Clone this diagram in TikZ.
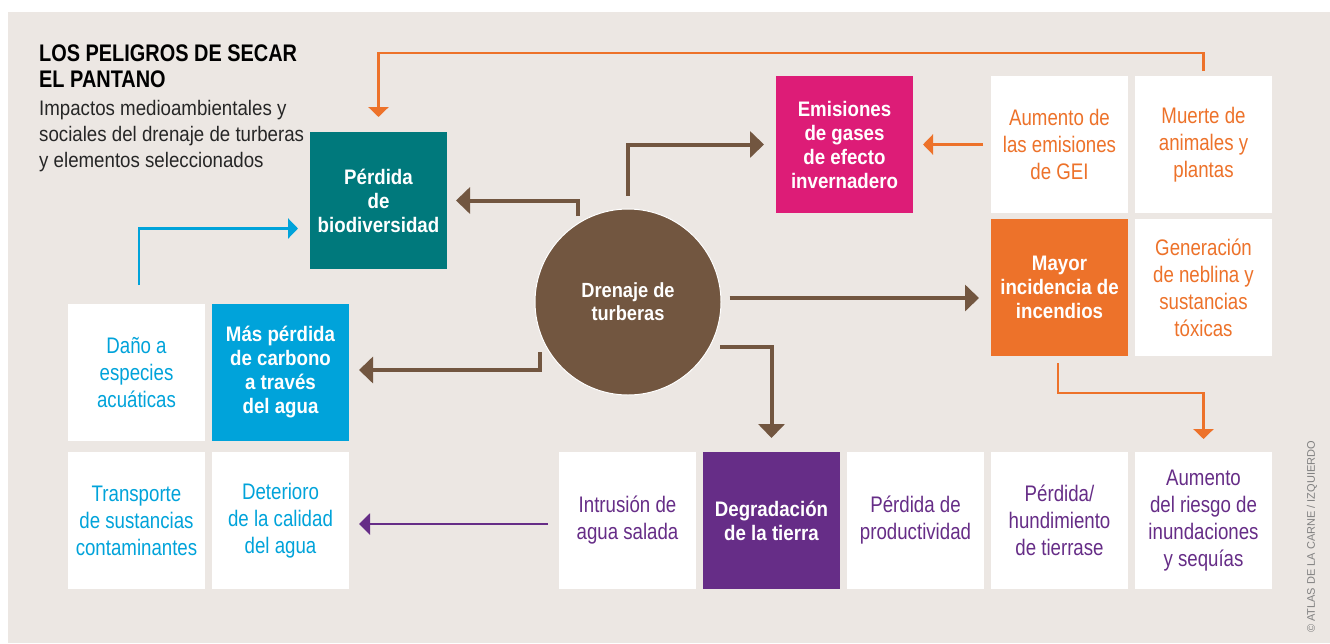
\documentclass[tikz,border=0pt]{standalone}
\usepackage{fontspec}
\setmainfont{Liberation Sans}
\newfontfamily\fA[FakeStretch=0.83]{Liberation Sans}
\newfontfamily\fB[FakeStretch=0.89]{Liberation Sans}
\usetikzlibrary{arrows.meta}
\definecolor{bgc}{HTML}{ECE7E3}
\definecolor{tealc}{HTML}{00797C}
\definecolor{magc}{HTML}{DD1C77}
\definecolor{orc}{HTML}{ED722A}
\definecolor{bluec}{HTML}{00A3DA}
\definecolor{purc}{HTML}{662D87}
\definecolor{brc}{HTML}{725640}
\tikzset{
  sq/.style={minimum width=137pt, minimum height=137pt, inner sep=0pt, outer sep=0pt, align=center, anchor=north west},
  wsq/.style={sq, fill=white, font=\fA\fontsize{22.5}{27}\selectfont},
  csq/.style={sq, text=white, font=\fB\bfseries\fontsize{21}{24}\selectfont},
  barr/.style={draw=brc, line width=4pt, -{Triangle[width=26pt,length=14pt]}},
  oarr/.style={draw=orc, line width=2.5pt, -{Triangle[width=20pt,length=10pt]}},
  bluearr/.style={draw=bluec, line width=2.5pt, -{Triangle[width=20pt,length=10pt]}},
  parr/.style={draw=purc, line width=2.2pt, -{Triangle[width=21pt,length=11pt]}},
}
\begin{document}
\begin{tikzpicture}[x=1pt,y=-1pt]
\useasboundingbox (0,0) rectangle (1330,643);
\fill[white] (0,0) rectangle (1330,643);
\fill[bgc] (8,12) rectangle (1330,643);

% title
\node[anchor=north west, inner sep=0pt, align=left, font=\fA\bfseries\fontsize{24}{26}\selectfont] (title) at (39,45) {LOS PELIGROS DE SECAR\\EL PANTANO};
\node[anchor=north west, inner sep=0pt, align=left, text=black!85, font=\fB\fontsize{21}{26}\selectfont] (sub) at (39,100) {Impactos medioambientales y\\sociales del drenaje de turberas\\y elementos seleccionados};

% boxes
\node[csq, fill=tealc] (bio) at (310,132) {Pérdida\\de\\biodiversidad};
\node[csq, fill=magc] (emis) at (776,76) {Emisiones\\de gases\\de efecto\\invernadero};
\node[wsq, text=orc] (gei) at (991,76) {Aumento de\\las emisiones\\de GEI};
\node[wsq, text=orc] (muerte) at (1135,76) {Muerte de\\animales y\\plantas};
\node[csq, fill=orc] (mayor) at (991,219) {Mayor\\incidencia de\\incendios};
\node[wsq, text=orc] (gen) at (1135,219) {Generación\\de neblina y\\sustancias\\tóxicas};
\node[wsq, text=bluec] (dano) at (68,304) {Daño a\\especies\\acuáticas};
\node[csq, fill=bluec] (mas) at (212,304) {Más pérdida\\de carbono\\a través\\del agua};
\node[wsq, text=bluec] (transp) at (68,452) {Transporte\\de sustancias\\contaminantes};
\node[wsq, text=bluec] (det) at (212,452) {Deterioro\\de la calidad\\del agua};
\node[wsq, text=purc] (intr) at (559,452) {Intrusión de\\agua salada};
\node[csq, fill=purc] (degr) at (703,452) {Degradación\\de la tierra};
\node[wsq, text=purc] (prod) at (847,452) {Pérdida de\\productividad};
\node[wsq, text=purc] (hund) at (991,452) {Pérdida/\\hundimiento\\de tierrase};
\node[wsq, text=purc] (riesgo) at (1135,452) {Aumento\\del riesgo de\\inundaciones\\y sequías};

% circle
\node[circle, minimum size=186pt, inner sep=0pt, fill=brc, draw=white, line width=1pt, text=white, align=center, font=\fB\bfseries\fontsize{20.5}{23}\selectfont] (circ) at (628,302) {Drenaje de\\turberas};

% brown arrows
\draw[barr] ([shift={(-50pt,86pt)}]circ.center) |- ([xshift=9pt]bio.east);
\draw[barr] ([yshift=13pt]circ.north) |- ([xshift=-12pt]emis.west);
\draw[barr] ([shift={(8pt,4pt)}]circ.east) -- ([shift={(-12pt,4pt)}]circ.east -| mayor.west);
\draw[barr] ([shift={(92pt,-45pt)}]circ.center) -| ([yshift=14pt]degr.north);
\draw[barr] ([shift={(-88pt,-50pt)}]circ.center) |- ([shift={(10pt,2.5pt)}]mas.east);

% purple
\draw[parr] ([shift={(-11pt,-3.5pt)}]intr.west) -- ([shift={(10pt,-3.5pt)}]det.east);

% blue
\draw[bluearr] ([shift={(2.5pt,19pt)}]dano.north) |- ([shift={(-12pt,-28pt)}]bio.west);

% orange
\draw[oarr] ([yshift=5pt]muerte.north) -- ++(0,-18) -| ([yshift=15pt]bio.north);
\draw[oarr] ([xshift=-8pt]gei.west) -- ([xshift=10pt]emis.east);
\draw[oarr] ([shift={(-1.5pt,-7pt)}]mayor.south) -- ++(0,30) -| ([yshift=13pt]riesgo.north);

% credit
\node[rotate=90, inner sep=0pt, text=black!50, font=\fontsize{11}{13}\selectfont] (credit) at (1312,537) {© ATLAS DE LA CARNE / IZQUIERDO};
\end{tikzpicture}
\end{document}
